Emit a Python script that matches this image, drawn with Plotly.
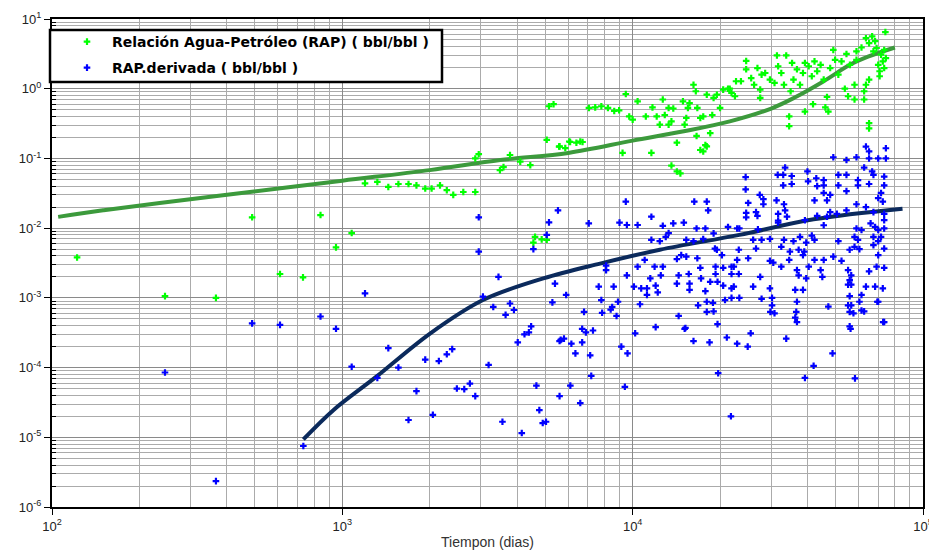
import plotly.graph_objects as go

# ---------------- data ----------------
rap_t = [122, 245, 367, 489, 610, 732, 841, 951, 1077, 1197, 1320, 1440, 1560, 1690, 1800,
         1930, 2030, 2170, 2290, 2410, 2610, 2870, 2950, 2870, 3490, 4550, 4610, 4860, 5060,
         3590, 3780, 4100, 4440, 5340, 5150, 5060, 5600, 5860, 6090, 6400, 6720, 5580, 6050,
         6600, 7070, 7430, 7800, 8220, 8640, 8980, 9230, 9470, 9730, 10000, 10400, 11100,
         11600, 11700, 12100, 12400, 12700, 12900, 13300, 13600, 13300, 13600, 13800, 14200,
         14900, 15100, 15300, 15500, 15700, 16200, 16500, 16600, 16700, 17100, 17500, 18000,
         18000, 17500, 18500, 18800, 19000, 19500, 20000, 20500, 21300, 21900, 22700, 14200,
         14600, 17100, 17800, 21600, 22500, 23600, 24600, 24600, 25600, 26200, 26900, 27500,
         27500, 27800, 28600, 29700, 30800, 31400, 31700, 32500, 33800, 33200, 34600, 34600,
         35000, 35400, 35800, 36800, 37700, 38600, 39200, 39200, 40400, 41400, 41800, 42300,
         43200, 44400, 45500, 46100, 46700, 47200, 47900, 49100, 49800, 51100, 52400, 53800,
         54500, 55200, 56000, 58100, 58100, 59000, 59000, 61400, 62700, 62700, 63600, 63600,
         65200, 65200, 65200, 65200, 66800, 67500, 68400, 69200, 70100, 70900, 70900, 71700,
         72700, 73500, 73500, 74200, 74500]
rap_v = [0.0038, 0.00106, 0.001, 0.0143, 0.0022, 0.00197, 0.0154, 0.0053, 0.0085, 0.044, 0.046,
         0.039, 0.043, 0.043, 0.041, 0.037, 0.037, 0.041, 0.035, 0.030, 0.033, 0.033, 0.115, 0.10,
         0.068, 0.0062, 0.0075, 0.0069, 0.0068, 0.075, 0.112, 0.09, 0.08, 0.60, 0.56, 0.185, 0.149,
         0.141, 0.172, 0.168, 0.172, 0.148, 0.175, 0.175, 0.53, 0.54, 0.56, 0.53, 0.48, 0.49, 0.12,
         0.84, 0.40, 0.36, 0.66, 0.40, 0.12, 0.54, 0.40, 0.305, 0.70, 0.42, 0.305, 0.34, 0.53,
         0.079, 0.52, 0.168, 0.66, 0.305, 0.38, 0.53, 0.62, 1.14, 0.92, 0.21, 0.53, 0.38, 0.40,
         0.82, 0.149, 0.126, 0.23, 0.42, 0.74, 0.82, 0.53, 0.97, 1.0, 0.87, 1.28, 0.065, 0.061,
         0.132, 0.155, 1.0, 0.78, 1.28, 2.5, 1.9, 1.42, 1.14, 1.98, 0.97, 0.74, 1.59, 1.68, 1.35,
         1.21, 3.0, 2.1, 1.68, 3.0, 1.14, 0.40, 0.29, 0.92, 2.34, 1.35, 1.9, 1.14, 1.68, 0.47,
         2.34, 2.1, 1.51, 0.60, 2.47, 1.78, 2.2, 1.35, 0.54, 0.76, 0.47, 1.98, 3.6, 2.6, 1.59,
         2.47, 1.0, 3.15, 0.78, 2.2, 1.14, 0.70, 3.44, 2.6, 3.9, 0.92, 0.70, 1.14, 5.3, 4.5, 1.35,
         0.32, 0.27, 5.65, 3.44, 4.8, 3.84, 2.2, 1.78, 1.51, 3.08, 2.47, 3.6, 1.98, 6.5, 2.75]

der_t = [245, 367, 489, 610, 734, 841, 951, 1077, 1197, 1320, 1440, 1560, 1690, 1800, 1930, 2050,
         2150, 2290, 2390, 2480, 2630, 2750, 2870, 2950, 2950, 3050, 3190, 3310, 3450, 3560, 3650,
         3780, 3900, 4020, 4150, 4240, 4390, 4470, 4550, 4660, 4770, 4900, 5030, 5060, 5150, 5400,
         5290, 5530, 5600, 5600, 7060, 9470, 9010, 9550, 10400, 11600, 12700, 13800, 15000, 16300,
         18000, 18200, 16600, 17800, 19000, 21300, 22900, 13300, 13000, 12400, 11600, 15300, 16200,
         17500, 19200, 19500, 20300, 14700, 15300, 16700, 14200, 11000, 10400, 11900, 12700, 8100,
         8100, 9550, 11500, 12500, 14400, 15600, 17100, 19300, 20500, 21900, 19300, 17200, 21900,
         7640, 8600, 10100, 10700, 11200, 12000, 14200, 15700, 15700, 17800, 18500, 19600, 20500,
         21900, 12200, 11200, 5900, 7800, 8900, 10600, 16800, 18000, 18900, 20800, 21900, 8500,
         6800, 7850, 8800, 14400, 18000, 19000, 19600, 12000, 15200, 6700, 8400, 29800, 30800,
         30200, 36600, 36800, 36800, 47200, 55200, 57600, 62700, 56300, 72900, 69600, 6900, 7300,
         5800, 5650, 6150, 6700, 6350, 7140, 9140, 9600, 10200, 15100, 16200, 18400, 21100, 22900,
         24900, 25500, 33800, 48800, 42000, 39200, 58300, 7200, 6100, 9400, 6600, 19700, 21800,
         33500, 31600, 33000, 35300, 33000, 35300, 40000, 40200, 42900, 43200, 24500, 24500, 27400,
         28200, 25000, 28200, 31300, 33200, 24600, 24600, 26600, 26900, 31700, 33500, 34000, 31700,
         31700, 23300, 27000, 39200, 45500, 46700, 47900, 42300, 45500, 45500, 51100, 51100, 54500,
         54500, 59000, 59700, 59700, 62700, 65200, 66800, 67500, 73500, 73500, 71700, 72700, 70100,
         73500, 73500, 67500, 63600, 68400, 66000, 70100, 73500, 61400, 59000, 58100, 59700, 67500,
         67500, 70100, 71700, 73500, 54500, 50500, 47900, 46700, 45500, 43200, 41400, 42300, 39600,
         37700, 35800, 37300, 39000, 38600, 34800, 33200, 32500, 29700, 27800, 26000, 26600, 23200,
         25000, 22900, 22300, 29700, 30500, 32500, 34600, 36800, 40400, 44400, 45500, 49100, 51100,
         52400, 55900, 58100, 60400, 55200, 56600, 55900, 65200, 69200, 73500, 70100, 55200, 56600,
         63600, 68400, 72700, 55900, 61400, 60400, 56600, 55900, 70100, 73500, 61400, 30200, 29700,
         27500, 23200, 26000, 22300, 23300, 27800, 36300, 39600, 38600, 36300, 37300, 45000, 42300,
         55900, 49100, 54500, 59000, 65200, 70100, 74500, 65200, 63600, 74500]
der_v = [8.5e-5, 2.35e-6, 4.3e-4, 4.1e-4, 7.5e-6, 5.4e-4, 3.6e-4, 1.03e-4, 0.00116, 7.1e-5, 1.9e-4,
         1.0e-4, 1.77e-5, 4.6e-5, 1.3e-4, 2.1e-5, 1.24e-4, 1.55e-4, 1.84e-4, 5.0e-5, 4.9e-5, 5.9e-5,
         3.9e-5, 0.0143, 0.0046, 0.00104, 1.09e-4, 7.4e-4, 0.002, 1.67e-5, 5.7e-4, 8.3e-4, 6.7e-4,
         2.3e-4, 1.15e-5, 3.0e-4, 3.2e-4, 3.9e-4, 0.005, 5.5e-5, 2.45e-5, 1.6e-5, 1.67e-5, 0.008,
         0.0121, 0.0016, 8.6e-4, 0.018, 2.4e-4, 3.9e-5, 0.0117, 0.024, 0.012, 0.0111, 0.0111, 0.0146,
         0.0108, 0.0117, 0.012, 0.024, 0.024, 0.018, 0.0099, 0.0099, 0.0084, 0.0104, 0.0099, 0.0085,
         0.0075, 0.0065, 0.0068, 0.0068, 0.0065, 0.007, 0.0051, 0.0049, 0.0041, 0.0041, 0.0039,
         0.0037, 0.0036, 0.0035, 0.0028, 0.0028, 0.0028, 0.0029, 0.0025, 0.0021, 0.0019, 0.0021,
         0.0021, 0.0022, 0.0027, 0.0028, 0.0027, 0.0028, 0.0022, 0.0019, 0.0022, 0.00145, 0.00145,
         0.00145, 0.00137, 0.00137, 0.0015, 0.0016, 0.0016, 0.0013, 0.00125, 0.0017, 0.0017, 0.0015,
         0.00137, 0.0012, 0.0011, 0.0011, 0.00093, 0.00088, 0.00081, 0.00078, 0.00088, 0.00085,
         0.00093, 0.001, 0.00074, 0.00063, 0.00061, 0.00055, 0.00055, 0.00063, 0.00064, 0.00042,
         0.00038, 0.00037, 0.00036, 0.00068, 0.00063, 0.0006, 0.00078, 0.00063, 0.00045, 0.00088,
         0.00075, 0.00078, 0.0006, 0.00064, 0.00036, 0.00045, 0.00088, 0.00032, 0.00034, 0.00026,
         0.00025, 0.00022, 0.00023, 0.00016, 0.00015, 0.0002, 0.00016, 0.00031, 0.00036, 0.00024,
         0.00023, 0.00027, 0.00022, 0.0002, 0.00031, 0.00026, 0.00016, 0.000106, 7.1e-5, 7.0e-5,
         7.6e-5, 5.5e-5, 5.3e-5, 3.1e-5, 8.3e-5, 2.0e-5, 0.074, 0.058, 0.058, 0.056, 0.041, 0.043,
         0.065, 0.047, 0.052, 0.040, 0.054, 0.036, 0.030, 0.026, 0.023, 0.022, 0.025, 0.022, 0.0166,
         0.0143, 0.017, 0.015, 0.016, 0.018, 0.0146, 0.0128, 0.012, 0.0099, 0.0096, 0.013, 0.032,
         0.025, 0.030, 0.025, 0.049, 0.041, 0.058, 0.041, 0.058, 0.034, 0.022, 0.049, 0.041, 0.074,
         0.043, 0.065, 0.058, 0.055, 0.041, 0.032, 0.024, 0.027, 0.016, 0.013, 0.017, 0.020, 0.0104,
         0.0117, 0.0094, 0.0099, 0.0094, 0.0099, 0.0075, 0.0068, 0.0075, 0.0057, 0.0065, 0.0075,
         0.0051, 0.018, 0.016, 0.017, 0.0146, 0.011, 0.015, 0.0078, 0.0068, 0.0062, 0.0075, 0.0065,
         0.0049, 0.0046, 0.0041, 0.0046, 0.0068, 0.0054, 0.007, 0.0068, 0.0068, 0.0051, 0.0049,
         0.0037, 0.0035, 0.0028, 0.0034, 0.0032, 0.0028, 0.0035, 0.0025, 0.0028, 0.0025, 0.0035,
         0.0039, 0.0065, 0.0034, 0.0049, 0.0054, 0.005, 0.0025, 0.0021, 0.0018, 0.0024, 0.0028,
         0.0027, 0.0041, 0.00155, 0.00155, 0.00145, 0.00145, 0.00137, 0.00106, 0.0011, 0.00088,
         0.00078, 0.00063, 0.00088, 0.00045, 0.00066, 0.001, 0.00137, 0.002, 0.0022, 0.00145,
         0.00145, 0.001, 0.00097, 0.00052, 0.0019, 0.0013, 0.0013, 0.0021, 0.002, 0.0035, 0.00039,
         0.104, 0.095, 0.104, 0.126, 0.10, 0.10, 0.10, 0.148, 0.14]

fit_rap_t = [105, 150, 235, 480, 1000, 2000, 3500, 6000, 10000, 15000, 21600, 30000, 36000,
             45500, 56000, 65000, 80000]
fit_rap_v = [0.0145, 0.018, 0.023, 0.033, 0.048, 0.068, 0.095, 0.12, 0.18, 0.245, 0.34, 0.52,
             0.74, 1.28, 2.2, 2.9, 3.9]

fit_der_t = [734, 931, 1310, 2010, 3050, 4920, 7720, 12400, 23300, 42000, 85000]
fit_der_v = [9.3e-6, 2.45e-5, 7.4e-5, 3.1e-4, 9.3e-4, 0.0019, 0.0031, 0.0049, 0.008, 0.0134, 0.019]

x_tick_vals = [1e2, 1e3, 1e4, 1e5]
x_tick_text = ["10<sup>2</sup>", "10<sup>3</sup>", "10<sup>4</sup>", "10<sup>5</sup>"]
y_tick_vals = [1e1, 1e0, 1e-1, 1e-2, 1e-3, 1e-4, 1e-5, 1e-6]
y_tick_text = ["10<sup>1</sup>", "10<sup>0</sup>", "10<sup>-1</sup>", "10<sup>-2</sup>",
               "10<sup>-3</sup>", "10<sup>-4</sup>", "10<sup>-5</sup>", "10<sup>-6</sup>"]

name_rap = "Relación Agua-Petróleo (RAP) ( bbl/bbl )"
name_der = "RAP.derivada ( bbl/bbl )"

# ---------------- figure ----------------
FONT = "Arial, 'Liberation Sans', sans-serif"
LEG_FONT = "'DejaVu Sans', Arial, sans-serif"
OFF = 8                      # the page body adds an 8 px margin
W, H = 937 - OFF, 552 - OFF  # figure size so that it fills the window

fig = go.Figure()
fig.add_trace(go.Scatter(x=fit_rap_t, y=fit_rap_v, mode="lines", line_shape="spline",
                         line=dict(color="#3c9a3c", width=4), showlegend=False, hoverinfo="skip"))
fig.add_trace(go.Scatter(x=fit_der_t, y=fit_der_v, mode="lines", line_shape="spline",
                         line=dict(color="#0b2a5c", width=4), showlegend=False, hoverinfo="skip"))
fig.add_trace(go.Scatter(x=rap_t, y=rap_v, mode="markers", name=name_rap, legend="legend",
                         marker=dict(symbol="cross", size=5.5, color="#00ff00", line=dict(width=0))))
fig.add_trace(go.Scatter(x=der_t, y=der_v, mode="markers", name=name_der, legend="legend2",
                         marker=dict(symbol="cross", size=5.5, color="#0000ff", line=dict(width=0))))

minor_x = [m * 10 ** d for d in range(2, 5) for m in range(2, 10)]
minor_y = [m * 10.0 ** d for d in range(-6, 1) for m in range(2, 10)]

axis_common = dict(showline=True, linecolor="black", linewidth=2, mirror=True,
                   showgrid=True, gridcolor="#8a8a8a", gridwidth=1, zeroline=False,
                   ticks="outside", tickcolor="black", ticklen=6, tickwidth=1,
                   tickfont=dict(family=FONT, size=13, color="#222222"))

fig.update_xaxes(type="log", range=[2, 5], tickvals=x_tick_vals, ticktext=x_tick_text,
                 minor=dict(tickvals=minor_x, showgrid=True, gridcolor="#ababab", gridwidth=1,
                            ticks=""),
                 title=dict(text="Tiempon (dias)", standoff=5,
                            font=dict(family=FONT, size=14, color="#333333")),
                 **axis_common)
fig.update_yaxes(type="log", range=[-6, 1], tickvals=y_tick_vals, ticktext=y_tick_text,
                 minor=dict(tickvals=minor_y, showgrid=True, gridcolor="#ababab", gridwidth=1,
                            ticks="inside", ticklen=4, tickcolor="black"),
                 **axis_common)

# plot area in window pixels: x 52..923, y 19..507
ML, MT, MR, MB = 52 - OFF, 19 - OFF, 14, 45
PW, PH = W - ML - MR, H - MT - MB

legend_common = dict(xref="container", yref="container", xanchor="left", yanchor="middle",
                     bgcolor="rgba(0,0,0,0)", borderwidth=0, itemwidth=40,
                     font=dict(family=LEG_FONT, size=14, color="black", weight="bold"))
fig.update_layout(
    width=W, height=H,
    margin=dict(l=ML, r=MR, t=MT, b=MB, autoexpand=False),
    paper_bgcolor="white", plot_bgcolor="white",
    legend=dict(x=(62 - OFF) / W, y=1 - (42 - OFF) / H, **legend_common),
    legend2=dict(x=(62 - OFF) / W, y=1 - (68 - OFF) / H, **legend_common),
    shapes=[dict(type="rect", xref="paper", yref="paper",
                 x0=(50 - 52) / PW, x1=(442 - 52) / PW,
                 y0=1 - (82 - 19) / PH, y1=1 - (30 - 19) / PH,
                 fillcolor="white", line=dict(color="black", width=2.5), layer="above")],
)

fig.write_html("out.html")
